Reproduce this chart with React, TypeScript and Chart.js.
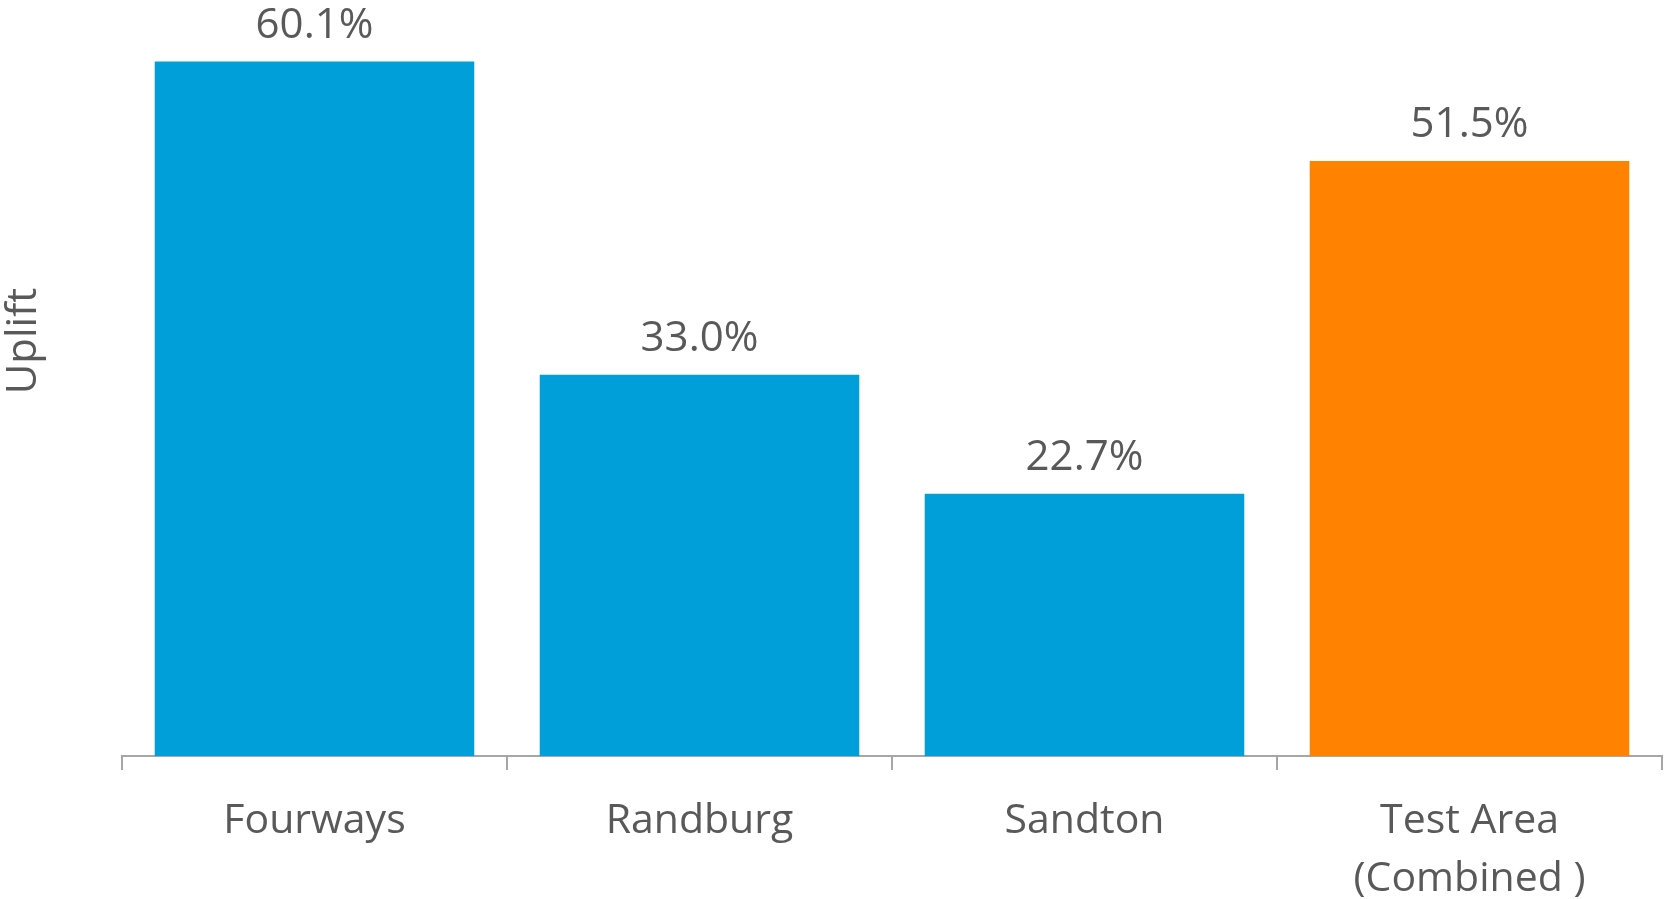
import { useEffect, useRef } from "react";
import { Chart, registerables } from "chart.js";

Chart.register(...registerables);

const categories: string[][] = [["Fourways"], ["Randburg"], ["Sandton"], ["Test Area", "(Combined )"]];
const upliftValues: number[] = [60.1, 33.0, 22.7, 51.5];
const barColors: string[] = ["#009FDA", "#009FDA", "#009FDA", "#FF8300"];
const axisTitle = "Uplift";

const FONT = "'Open Sans', 'Noto Sans', sans-serif";
const TEXT = "#595959";
const AXIS = "#A6A6A6";

const valueLabelPlugin = {
  id: "valueLabels",
  afterDatasetsDraw(chart: any) {
    const ctx = chart.ctx;
    const meta = chart.getDatasetMeta(0);
    ctx.save();
    ctx.font = `42px ${FONT}`;
    ctx.fillStyle = TEXT;
    ctx.textAlign = "center";
    ctx.textBaseline = "alphabetic";
    meta.data.forEach((bar: any, i: number) => {
      ctx.fillText(upliftValues[i].toFixed(1) + "%", bar.x, bar.y - 24);
    });
    ctx.restore();
  },
};

const axisTitlePlugin = {
  id: "axisTitle",
  afterDraw(chart: any) {
    const ctx = chart.ctx;
    ctx.save();
    ctx.translate(24, 341);
    ctx.rotate(-Math.PI / 2);
    ctx.font = `42px ${FONT}`;
    ctx.fillStyle = TEXT;
    ctx.textAlign = "center";
    ctx.textBaseline = "middle";
    ctx.fillText(axisTitle, 0, 0);
    ctx.restore();
  },
};

export default function App() {
  const ref = useRef<HTMLCanvasElement | null>(null);
  useEffect(() => {
    if (!ref.current) return;
    const chart = new Chart(ref.current, {
      type: "bar",
      data: {
        labels: categories,
        datasets: [
          {
            data: upliftValues,
            backgroundColor: barColors,
            borderWidth: 0,
            categoryPercentage: 1,
            barPercentage: 0.83,
          },
        ],
      },
      options: {
        animation: false,
        responsive: false,
        devicePixelRatio: 1,
        layout: { padding: { left: 122, right: 2, top: 5, bottom: 0 } },
        plugins: { legend: { display: false }, tooltip: { enabled: false } },
        scales: {
          x: {
            afterFit(scale: any) {
              scale.height = 143;
            },
            grid: {
              display: true,
              drawOnChartArea: false,
              drawTicks: true,
              tickLength: 14,
              color: AXIS,
              lineWidth: 2,
              offset: true,
            },
            border: { display: true, color: AXIS, width: 2 },
            ticks: {
              color: TEXT,
              font: { family: FONT, size: 41, lineHeight: 1.4 },
              padding: 23,
              maxRotation: 0,
              autoSkip: false,
            },
          },
          y: { display: false, min: 0, max: 65 },
        },
      },
      plugins: [valueLabelPlugin, axisTitlePlugin],
    });
    return () => chart.destroy();
  }, []);
  return (
    <div style={{ position: "fixed", left: 0, top: 0, width: 1664, height: 899, background: "#fff" }}>
      <canvas ref={ref} width={1664} height={899} style={{ width: 1664, height: 899 }} />
    </div>
  );
}
